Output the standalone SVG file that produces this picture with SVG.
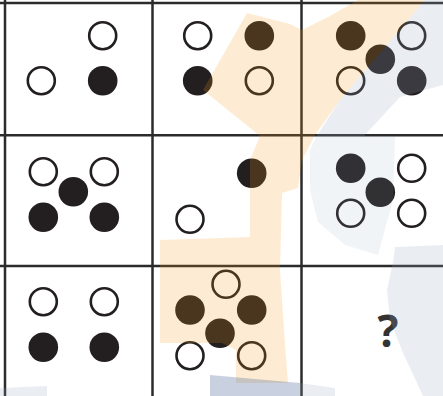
<svg xmlns="http://www.w3.org/2000/svg" width="443" height="396" viewBox="0 0 443 396">
<style>
.o{fill:none;stroke:#231f20;stroke-width:2.6}
.f{fill:#231f20}
.grid{stroke:#2b2b2b;stroke-width:2.5;fill:none}
.wo{fill:rgb(244,155,19);fill-opacity:0.19}
.wb{fill:rgb(150,170,195);fill-opacity:0.2}
.wl{fill:rgb(150,170,195);fill-opacity:0.13}
.wd{fill:rgb(75,98,148);fill-opacity:0.3}
</style>
<rect width="443" height="396" fill="#ffffff"/>
<g id="grid">
<line class="grid" x1="5" y1="0" x2="5" y2="396"/>
<line class="grid" x1="152.5" y1="0" x2="152.5" y2="396"/>
<line class="grid" x1="301.5" y1="0" x2="301.5" y2="396"/>
<line class="grid" x1="0" y1="3" x2="443" y2="3"/>
<line class="grid" x1="0" y1="135.3" x2="443" y2="135.3"/>
<line class="grid" x1="0" y1="266" x2="443" y2="266"/>
</g>
<g id="cell-1-1">
<circle class="o" cx="102.7" cy="35.7" r="13.5"/>
<circle class="o" cx="41.3" cy="80.7" r="13.5"/>
<circle class="f" cx="102.7" cy="80.7" r="14.8"/>
</g>
<g id="cell-1-2">
<circle class="o" cx="197.7" cy="35.7" r="13.5"/>
<circle class="f" cx="259.3" cy="35.7" r="14.8"/>
<circle class="f" cx="197.7" cy="80.7" r="14.8"/>
<circle class="o" cx="259.3" cy="80.7" r="13.5"/>
</g>
<g id="cell-1-3">
<circle class="f" cx="350.7" cy="35.7" r="14.8"/>
<circle class="o" cx="411.7" cy="35.7" r="13.5"/>
<circle class="f" cx="380.3" cy="59.3" r="14.8"/>
<circle class="o" cx="350.7" cy="80.7" r="13.5"/>
<circle class="f" cx="411.7" cy="80.7" r="14.8"/>
</g>
<g id="cell-2-1">
<circle class="o" cx="43.3" cy="171.7" r="13.5"/>
<circle class="o" cx="104.3" cy="171.7" r="13.5"/>
<circle class="f" cx="73.3" cy="191.7" r="14.8"/>
<circle class="f" cx="43.3" cy="217.3" r="14.8"/>
<circle class="f" cx="104.3" cy="217.3" r="14.8"/>
</g>
<g id="cell-2-2">
<circle class="f" cx="251.7" cy="173.3" r="14.8"/>
<circle class="o" cx="190" cy="219.3" r="13.5"/>
</g>
<g id="cell-2-3">
<circle class="f" cx="350.7" cy="168.3" r="14.8"/>
<circle class="o" cx="411.7" cy="168.3" r="13.5"/>
<circle class="f" cx="380.3" cy="192.3" r="14.8"/>
<circle class="o" cx="350.7" cy="213.3" r="13.5"/>
<circle class="o" cx="411.7" cy="213.3" r="13.5"/>
</g>
<g id="cell-3-1">
<circle class="o" cx="43.3" cy="301.7" r="13.5"/>
<circle class="o" cx="104.3" cy="301.7" r="13.5"/>
<circle class="f" cx="43.3" cy="347.3" r="14.8"/>
<circle class="f" cx="104.3" cy="347.3" r="14.8"/>
</g>
<g id="cell-3-2">
<circle class="o" cx="226" cy="284.3" r="13.5"/>
<circle class="f" cx="190" cy="310" r="14.8"/>
<circle class="f" cx="251.7" cy="310" r="14.8"/>
<circle class="f" cx="220" cy="333.3" r="14.8"/>
<circle class="o" cx="190" cy="355.7" r="13.5"/>
<circle class="o" cx="251.7" cy="355.7" r="13.5"/>
</g>
<g id="cell-3-3">
<text x="388" y="346.5" text-anchor="middle" font-family="'Open Sans', 'DejaVu Sans', sans-serif" font-weight="bold" font-size="44" fill="#333333">?</text>
</g>
<g id="watermark">
<polygon class="wo" points="247,13 290,24 302,30 330,16 358,0 425,0 340,100 315,135 302,160 298,188 282,193 280,270 285,345 288,383 236,383 236,350 222,343 160,343 160,240 250,237 250,160 260,136 203,90"/>
<polygon class="wb" points="425,0 443,0 443,85 400,97 363,137 316,137 340,100"/>
<polygon class="wl" points="316,137 395,137 393,200 378,255 345,245 318,222 310,190 310,150"/>
<polygon class="wb" points="395,247 443,245 443,396 423,396 403,353 390,320 387,290 393,262"/>
<polygon class="wd" points="210,375 300,383 300,396 210,396"/>
<polygon class="wb" points="300,383 335,388 335,396 300,396"/>
<polygon class="wb" points="0,388 47,386 47,396 0,396"/>
</g>
</svg>
